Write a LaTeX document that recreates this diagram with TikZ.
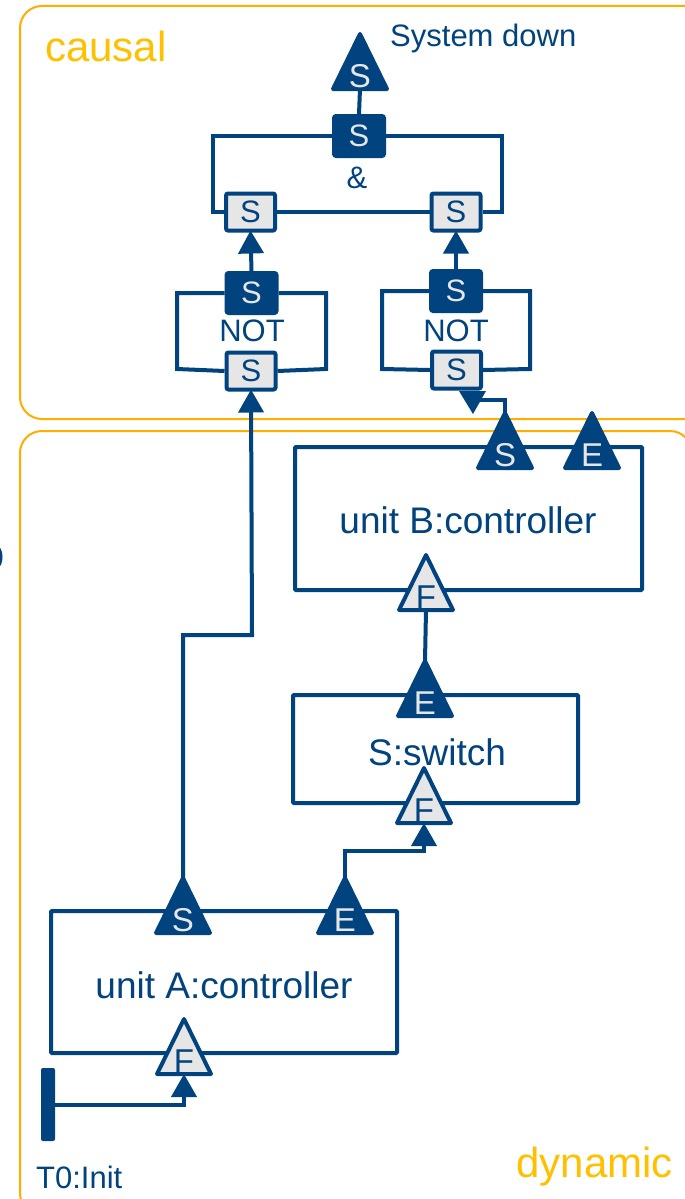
\documentclass[tikz,border=0pt]{standalone}
\usepackage{fontspec}
\setmainfont{Liberation Sans}
\usetikzlibrary{arrows.meta}
\definecolor{dblue}{HTML}{00437F}
\definecolor{lgray}{HTML}{E6E6E6}
\definecolor{orng}{HTML}{FFAE00}
\definecolor{orngtxt}{HTML}{FFC000}
\newcommand\bigfont{\fontsize{37}{44}\selectfont}
\newcommand\midfont{\fontsize{31}{37}\selectfont}
\newcommand\portfont{\fontsize{33}{40}\selectfont}
\newcommand\hugefont{\fontsize{42}{50}\selectfont}
\newcommand\Port[5]{%
  \filldraw[port#4] (#2-27,#3) -- (#2,#3-55) -- (#2+27,#3) -- cycle;
  \node[portlbl#4] (#1) at (#2,#3-13) {#5};
  \coordinate (#1-tip) at (#2,#3-55);
  \coordinate (#1-base) at (#2,#3);
}
\tikzset{
  wire/.style={draw=dblue, line width=4, line join=miter},
  arr/.style={wire, -{Triangle[width=25pt,length=23pt]}},
  portdark/.style={fill=dblue, draw=dblue, line width=4, line join=round},
  portlight/.style={fill=lgray, draw=dblue, line width=4, line join=round},
  portlbldark/.style={text=lgray, font=\portfont, inner sep=0},
  portlbllight/.style={text=dblue, font=\portfont, inner sep=0},
  gdark/.style={fill=dblue, draw=dblue, line width=2, rounded corners=3, minimum width=52, minimum height=42, inner sep=0, text=lgray, font=\midfont},
  glight/.style={fill=lgray, draw=dblue, line width=4, rounded corners=2, minimum width=49, minimum height=37, inner sep=0, text=dblue, font=\midfont},
  unitbox/.style={draw=dblue, line width=4, rounded corners=1, inner sep=0, text=dblue, font=\bigfont},
  region/.style={draw=orng, line width=2, rounded corners=22},
  regionlbl/.style={text=orngtxt, font=\hugefont, inner sep=0},
  lbl/.style={text=dblue, font=\midfont, inner sep=0},
}
\begin{document}
\begin{tikzpicture}[x=1pt,y=-1pt]
\useasboundingbox (0,0) rectangle (685,1199);
\clip (0,0) rectangle (685,1199);
\fill[white] (0,0) rectangle (685,1199);
% regions
\draw[region] (20,6) rectangle (720,419);
\draw[region] (20,431) rectangle (692,1215);
\node[regionlbl, anchor=base west] (causal) at (45,62) {causal};
\node[regionlbl, anchor=base east] (dynamic) at (673,1177) {dynamic};
% partial shape at the left edge
\draw[dblue, line width=3] (-9,557) ellipse (10 and 14);
% causal part
\node[lbl, anchor=base west] (sysdownlbl) at (390,47) {System down};
\node[gdark] (andOut) at (359,136) {S};
\node[lbl] (amp) at (357,178) {\&};
\node[glight] (andL) at (250.5,212) {S};
\node[glight] (andR) at (456,212) {S};
\coordinate (andTL) at (213,136);
\coordinate (andBL) at (213,212);
\coordinate (andTR) at (502,136);
\coordinate (andBR) at (502,212);
\draw[wire] (andOut.west) -- (andTL) -- (andBL) -- (andL.west);
\draw[wire] (andOut.east) -- (andTR) -- (andBR) -- (andR.east);
\draw[wire] (andL.east) -- (andR.west);
\Port{sysdown}{360}{89}{dark}{S}
\draw[wire] (andOut.north) -- (sysdown-base);
% NOT left
\node[gdark] (notLo) at (251.5,293) {S};
\node[lbl] (notLtxt) at (252,331) {NOT};
\node[glight] (notLi) at (251,371) {S};
\coordinate (nLTL) at (177,293);
\coordinate (nLBL) at (177,369);
\coordinate (nLTR) at (326,293);
\coordinate (nLBR) at (326,369);
\draw[wire] (notLo.west) -- (nLTL) -- (nLBL) -- (notLi.west);
\draw[wire] (notLo.east) -- (nLTR) -- (nLBR) -- (notLi.east);
% NOT right
\node[gdark] (notRo) at (456,291) {S};
\node[lbl] (notRtxt) at (456,331) {NOT};
\node[glight] (notRi) at (456.5,370) {S};
\coordinate (nRTL) at (382,291);
\coordinate (nRBL) at (382,369);
\coordinate (nRTR) at (530,291);
\coordinate (nRBR) at (530,369);
\draw[wire] (notRo.west) -- (nRTL) -- (nRBL) -- (notRi.west);
\draw[wire] (notRo.east) -- (nRTR) -- (nRBR) -- (notRi.east);
\draw[arr, shorten >=-2pt] (notLo.north) -- (andL.south);
\draw[arr, shorten >=-2pt] (notRo.north) -- (andR.south);
% dynamic part
\node[unitbox, minimum width=347, minimum height=143] (ub) at (468.5,518.5) {};
\node[text=dblue, font=\bigfont, inner sep=0] (ubtxt) at (468,520) {unit B:controller};
\node[unitbox, minimum width=285, minimum height=108] (sw) at (435.5,749) {};
\node[text=dblue, font=\bigfont, inner sep=0] (swtxt) at (437,752) {S:switch};
\node[unitbox, minimum width=346, minimum height=142] (ua) at (224,982) {};
\node[text=dblue, font=\bigfont, inner sep=0] (uatxt) at (224,985) {unit A:controller};
\Port{ubS}{505}{468}{dark}{S}
\Port{ubE}{592}{468}{dark}{E}
\Port{ubF}{426}{610}{light}{F}
\Port{swE}{425}{716}{dark}{E}
\Port{swF}{424}{823}{light}{F}
\Port{uaS}{183}{933}{dark}{S}
\Port{uaE}{345}{933}{dark}{E}
\Port{uaF}{184}{1074}{light}{F}
% T0
\node[fill=dblue, rounded corners=2, minimum width=14, minimum height=73, inner sep=0] (t0bar) at (48,1104.5) {};
\node[lbl, anchor=base west] (t0lbl) at (36,1188) {T0:Init};
% connectors
\draw[wire] (ubF-base) -- (swE-tip);
\coordinate (jA) at (252,635);
\draw[arr, shorten >=-2pt] (uaS-tip) |- (jA) -- (notLi.south);
\coordinate (jS) at (424,851);
\draw[arr] (uaE-tip) |- (jS) -- (swF-base);
\coordinate (jT) at (184,1104.5);
\draw[arr] (t0bar.east) -- (jT) -- (uaF-base);
\coordinate (jB) at (480,400);
\draw[wire] (ubS-tip) |- (jB);
\fill[dblue] (459,391) -- (486,391) -- (473,414) -- cycle;
\end{tikzpicture}
\end{document}
